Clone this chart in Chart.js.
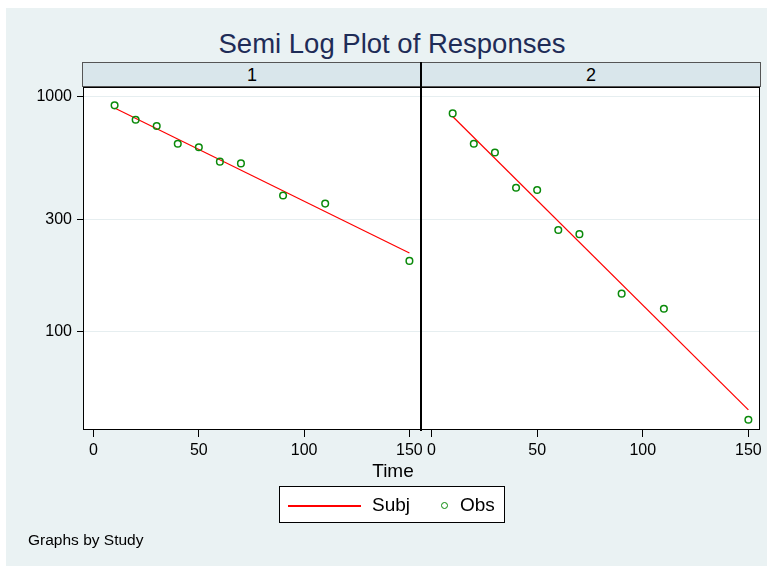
<!DOCTYPE html>
<html>
<head>
<meta charset="utf-8">
<script src="https://cdn.jsdelivr.net/npm/chart.js"></script>
<style>
  body { margin: 0; background: #fff; width: 767px; height: 566px; overflow: hidden; position: relative;
         font-family: "Liberation Sans", Arial, sans-serif; }
  .abs { position: absolute; }
  #bg { left: 6px; top: 8px; width: 761px; height: 558px; background: #eaf2f3; }
  canvas { position: absolute; left: 0; top: 0; }
  .strip { top: 62px; height: 23px; background: #d9e6eb; border: 1px solid #555; box-sizing: content-box;
           font-size: 18px; line-height: 18px; text-align: center; color: #000; }
  .strip span { position: relative; top: 3px; }
</style>
</head>
<body>
<div id="bg" class="abs"></div>
<div class="abs" style="left:0;width:784px;top:30px;font-size:27.5px;line-height:27.5px;text-align:center;color:#1e2c57;">Semi Log Plot of Responses</div>
<div class="abs strip" style="left:82px;width:338px;"><span>1</span></div>
<div class="abs strip" style="left:421px;width:338px;"><span>2</span></div>
<canvas id="c1" width="767" height="566"></canvas>
<canvas id="c2" width="767" height="566"></canvas>
<div class="abs" style="left:420px;top:62px;width:2px;height:369px;background:#000;"></div>
<div class="abs" style="left:343px;width:100px;top:461px;font-size:19px;line-height:19px;text-align:center;">Time</div>
<div class="abs" style="left:279px;top:486px;width:224px;height:35px;background:#fff;border:1px solid #000;">
  <div class="abs" style="left:8px;top:18px;width:73px;height:2px;background:#ff0000;"></div>
  <div class="abs" style="left:92px;top:8px;font-size:19px;line-height:19px;">Subj</div>
  <div class="abs" style="left:161px;top:15px;width:5px;height:5px;border:1.5px solid #0a8a0a;border-radius:50%;"></div>
  <div class="abs" style="left:180px;top:8px;font-size:19px;line-height:19px;">Obs</div>
</div>
<div class="abs" style="left:28px;top:532px;font-size:15.5px;line-height:15.5px;">Graphs by Study</div>
<script>
// observation times (same for both studies)
const times = [10, 20, 30, 40, 50, 60, 70, 90, 110, 150];
// observed responses, study 1 and study 2
const obs1 = [921, 800, 752, 632, 610, 530, 521, 380, 351, 200];
const obs2 = [851, 632, 580, 410, 401, 271, 260, 145, 125, 42];
// fitted line end points
const fitTimes = [10, 150];
const fit1 = [897, 216];
const fit2 = [826, 46.3];
// axis ticks
const xTicks = [0, 50, 100, 150];
const yTicks = [100, 300, 1000];

const font = { family: '"Liberation Sans", Arial, sans-serif', size: 16 };

const plotFrame = {
  id: 'plotFrame',
  beforeDraw(chart) {
    const a = chart.chartArea, ctx = chart.ctx;
    ctx.save();
    ctx.fillStyle = '#fff';
    ctx.fillRect(a.left, a.top, a.right - a.left, a.bottom - a.top);
    ctx.restore();
  },
  afterDraw(chart) {
    const a = chart.chartArea, ctx = chart.ctx;
    ctx.save();
    ctx.strokeStyle = '#000';
    ctx.lineWidth = 1;
    ctx.strokeRect(a.left + 0.5, a.top + 0.5, a.right - a.left - 1, a.bottom - a.top - 1);
    ctx.restore();
  }
};

function makePanel(id, obs, fit, first) {
  const pts = times.map((t, i) => ({ x: t, y: obs[i] }));
  const line = fitTimes.map((t, i) => ({ x: t, y: fit[i] }));
  return new Chart(document.getElementById(id), {
    type: 'scatter',
    data: {
      datasets: [
        { label: 'Subj', data: line, showLine: true, borderColor: '#ff0000', borderWidth: 1.2,
          pointRadius: 0, order: 2 },
        { label: 'Obs', data: pts, showLine: false, pointStyle: 'circle', pointRadius: 3.3,
          pointBorderWidth: 1.5, borderColor: '#0a8a0a', backgroundColor: 'rgba(0,0,0,0)', order: 1 }
      ]
    },
    options: {
      responsive: false,
      animation: false,
      devicePixelRatio: 1,
      layout: { padding: first
        ? { left: 23, right: 346, top: 87, bottom: 96 }
        : { left: 421, right: 7, top: 87, bottom: 96 } },
      plugins: { legend: { display: false }, tooltip: { enabled: false } },
      scales: {
        x: {
          type: 'linear', min: -5, max: 155.5,
          afterBuildTicks: s => { s.ticks = xTicks.map(v => ({ value: v })); },
          afterFit: s => { s.height = 40; },
          grid: { drawOnChartArea: false, tickLength: 7, tickColor: '#000' },
          border: { display: false },
          ticks: { color: '#000', font, padding: 4, maxRotation: 0, autoSkip: false,
                   callback: v => String(v) }
        },
        y: {
          type: 'logarithmic', min: 38, max: 1103,
          afterBuildTicks: s => { s.ticks = yTicks.map(v => ({ value: v })); },
          afterFit: s => { s.width = first ? 60 : 0; },
          grid: { color: '#e6eef0', lineWidth: 1, drawTicks: first, tickLength: 6, tickColor: '#000' },
          border: { display: false },
          ticks: { display: first, color: '#000', font, padding: 5, autoSkip: false,
                   callback: v => String(v) }
        }
      }
    },
    plugins: [plotFrame]
  });
}

makePanel('c1', obs1, fit1, true);
makePanel('c2', obs2, fit2, false);
</script>
</body>
</html>
